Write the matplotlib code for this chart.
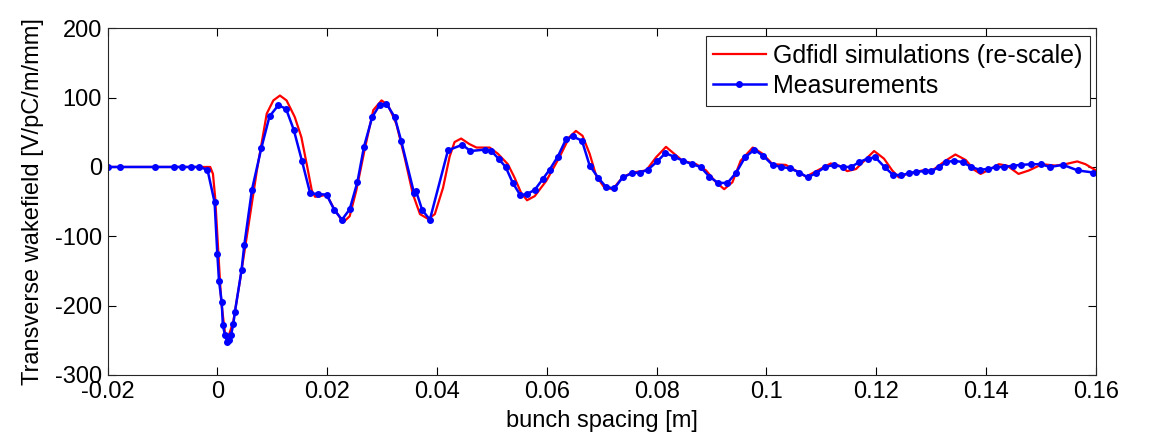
import matplotlib
matplotlib.use("Agg")
import matplotlib.pyplot as plt

plt.rcParams['font.family'] = ['Liberation Sans', 'DejaVu Sans']
plt.rcParams['axes.unicode_minus'] = False

# Gdfidl simulated transverse wakefield (re-scaled) [V/pC/m/mm] vs bunch spacing [m]
sim_x = [-0.0200, -0.0013, -0.0008, -0.0004, 0.0002, 0.0007, 0.0014, 0.0020, 0.0029,
         0.0041, 0.0056, 0.0072, 0.0090, 0.0102, 0.0114, 0.0126, 0.0141, 0.0153,
         0.0164, 0.0172, 0.0178, 0.0187, 0.0199, 0.0211, 0.0229, 0.0241, 0.0253,
         0.0269, 0.0284, 0.0299, 0.0311, 0.0326, 0.0341, 0.0356, 0.0369, 0.0384,
         0.0396, 0.0411, 0.0423, 0.0432, 0.0444, 0.0459, 0.0472, 0.0496, 0.0511,
         0.0529, 0.0541, 0.0553, 0.0564, 0.0578, 0.0599, 0.0623, 0.0641, 0.0653,
         0.0665, 0.0678, 0.0690, 0.0705, 0.0720, 0.0738, 0.0756, 0.0781, 0.0799,
         0.0817, 0.0829, 0.0847, 0.0872, 0.0890, 0.0908, 0.0923, 0.0938, 0.0953,
         0.0975, 0.0993, 0.1011, 0.1035, 0.1053, 0.1072, 0.1093, 0.1117, 0.1132,
         0.1147, 0.1163, 0.1187, 0.1196, 0.1214, 0.1229, 0.1241, 0.1256, 0.1284,
         0.1302, 0.1326, 0.1344, 0.1363, 0.1378, 0.1390, 0.1408, 0.1423, 0.1438,
         0.1459, 0.1478, 0.1502, 0.1526, 0.1544, 0.1566, 0.1581, 0.1600]
sim_y = [0, 0, -10, -44, -126, -194, -240, -245, -223,
         -165, -88, -5, 77, 96, 103, 96, 72, 43,
         -1, -34, -43, -42, -40, -58, -80, -71, -34,
         28, 82, 96, 89, 62, 14, -39, -68, -75,
         -68, -30, 15, 36, 41, 33, 28, 28, 19,
         4, -15, -37, -48, -42, -20, 14, 43, 52,
         45, 19, -13, -30, -32, -15, -8, -5, 14,
         29, 21, 9, 4, -5, -22, -32, -22, 9,
         28, 19, 4, 3, -5, -14, -5, 5, 2,
         -6, -3, 16, 23, 12, -5, -15, -10, -5,
         -5, 9, 18, 10, -4, -10, -3, 4, 2,
         -10, -5, 4, 2, 4, 8, 4, -5]

# Measured transverse wakefield
meas_x = [-0.0200, -0.0177, -0.0113, -0.0079, -0.0065, -0.0048, -0.0033, -0.0018,
          -0.0005, 0.0000, 0.0003, 0.0008, 0.0010, 0.0014, 0.0018, 0.0022, 0.0025,
          0.0029, 0.0032, 0.0044, 0.0049, 0.0063, 0.0080, 0.0095, 0.0111, 0.0125,
          0.0139, 0.0154, 0.0169, 0.0184, 0.0199, 0.0213, 0.0227, 0.0241, 0.0255,
          0.0267, 0.0282, 0.0296, 0.0308, 0.0323, 0.0335, 0.0358, 0.0362, 0.0373,
          0.0387, 0.0420, 0.0446, 0.0461, 0.0487, 0.0499, 0.0512, 0.0525, 0.0538,
          0.0552, 0.0564, 0.0578, 0.0593, 0.0605, 0.0620, 0.0635, 0.0647, 0.0664,
          0.0678, 0.0694, 0.0708, 0.0723, 0.0738, 0.0755, 0.0770, 0.0784, 0.0801,
          0.0816, 0.0831, 0.0848, 0.0865, 0.0880, 0.0896, 0.0912, 0.0929, 0.0945,
          0.0961, 0.0978, 0.0994, 0.1011, 0.1027, 0.1043, 0.1060, 0.1075, 0.1090,
          0.1107, 0.1123, 0.1139, 0.1154, 0.1169, 0.1184, 0.1198, 0.1215, 0.1230,
          0.1245, 0.1260, 0.1272, 0.1288, 0.1300, 0.1315, 0.1327, 0.1342, 0.1357,
          0.1373, 0.1388, 0.1403, 0.1418, 0.1433, 0.1449, 0.1464, 0.1482, 0.1500,
          0.1516, 0.1540, 0.1567, 0.1595]
meas_y = [0, 0, 0, 0, 0, 0, 0, -4,
          -51, -126, -164, -195, -228, -243, -252, -249, -242,
          -227, -209, -149, -113, -33, 27, 73, 89, 84,
          54, 9, -38, -39, -40, -62, -76, -61, -22,
          29, 72, 90, 91, 72, 37, -37, -35, -62,
          -76, 24, 32, 23, 25, 23, 12, 0, -23,
          -41, -39, -33, -17, -4, 15, 40, 44, 38,
          2, -16, -29, -31, -15, -9, -8, -4, 8,
          20, 15, 9, 4, 0, -14, -23, -23, -8,
          14, 25, 16, 3, 0, -2, -8, -15, -9,
          0, 3, 0, 0, 7, 12, 14, 0, -11,
          -12, -9, -7, -6, -6, 0, 7, 9, 7,
          0, -4, -3, 0, 0, 2, 3, 4, 4,
          0, 3, -5, -8]

x_ticks = [-0.02, 0, 0.02, 0.04, 0.06, 0.08, 0.1, 0.12, 0.14, 0.16]
x_ticklabels = ['-0.02', '0', '0.02', '0.04', '0.06', '0.08', '0.1', '0.12', '0.14', '0.16']
y_ticks = [-300, -200, -100, 0, 100, 200]
y_ticklabels = ['-300', '-200', '-100', '0', '100', '200']

FS = 17

fig = plt.figure(figsize=(11.5, 4.42), dpi=100)
ax = fig.add_axes([0.0935, 0.1516, 0.8595, 0.7844])

ax.plot(sim_x, sim_y, color='#ff0000', linewidth=1.6,
        label='Gdfidl simulations (re-scale)')
ax.plot(meas_x, meas_y, color='#0000ff', linewidth=1.8, marker='.',
        markersize=8, label='Measurements')

ax.set_xlim(-0.02, 0.16)
ax.set_ylim(-300, 200)
ax.set_xticks(x_ticks)
ax.set_xticklabels(x_ticklabels)
ax.set_yticks(y_ticks)
ax.set_yticklabels(y_ticklabels)

ax.tick_params(direction='in', length=6, width=0.8, top=True, right=True,
               labelsize=FS, colors='black')
ax.tick_params(axis='x', pad=4.5)
ax.tick_params(axis='y', pad=4)
for s in ax.spines.values():
    s.set_linewidth(0.8)
    s.set_color('#262626')

ax.set_xlabel('bunch spacing [m]', fontsize=FS, labelpad=5)
ax.set_ylabel('Transverse wakefield [V/pC/m/mm]', fontsize=FS, labelpad=8)

leg = ax.legend(loc='upper right', bbox_to_anchor=(0.994, 0.977),
                borderaxespad=0, fancybox=False, framealpha=1,
                edgecolor='#262626', fontsize=18, handlelength=2.1,
                handletextpad=0.3, labelspacing=0.25, borderpad=0.3)
leg.get_frame().set_linewidth(0.8)

fig.savefig('out.png', dpi=100)
